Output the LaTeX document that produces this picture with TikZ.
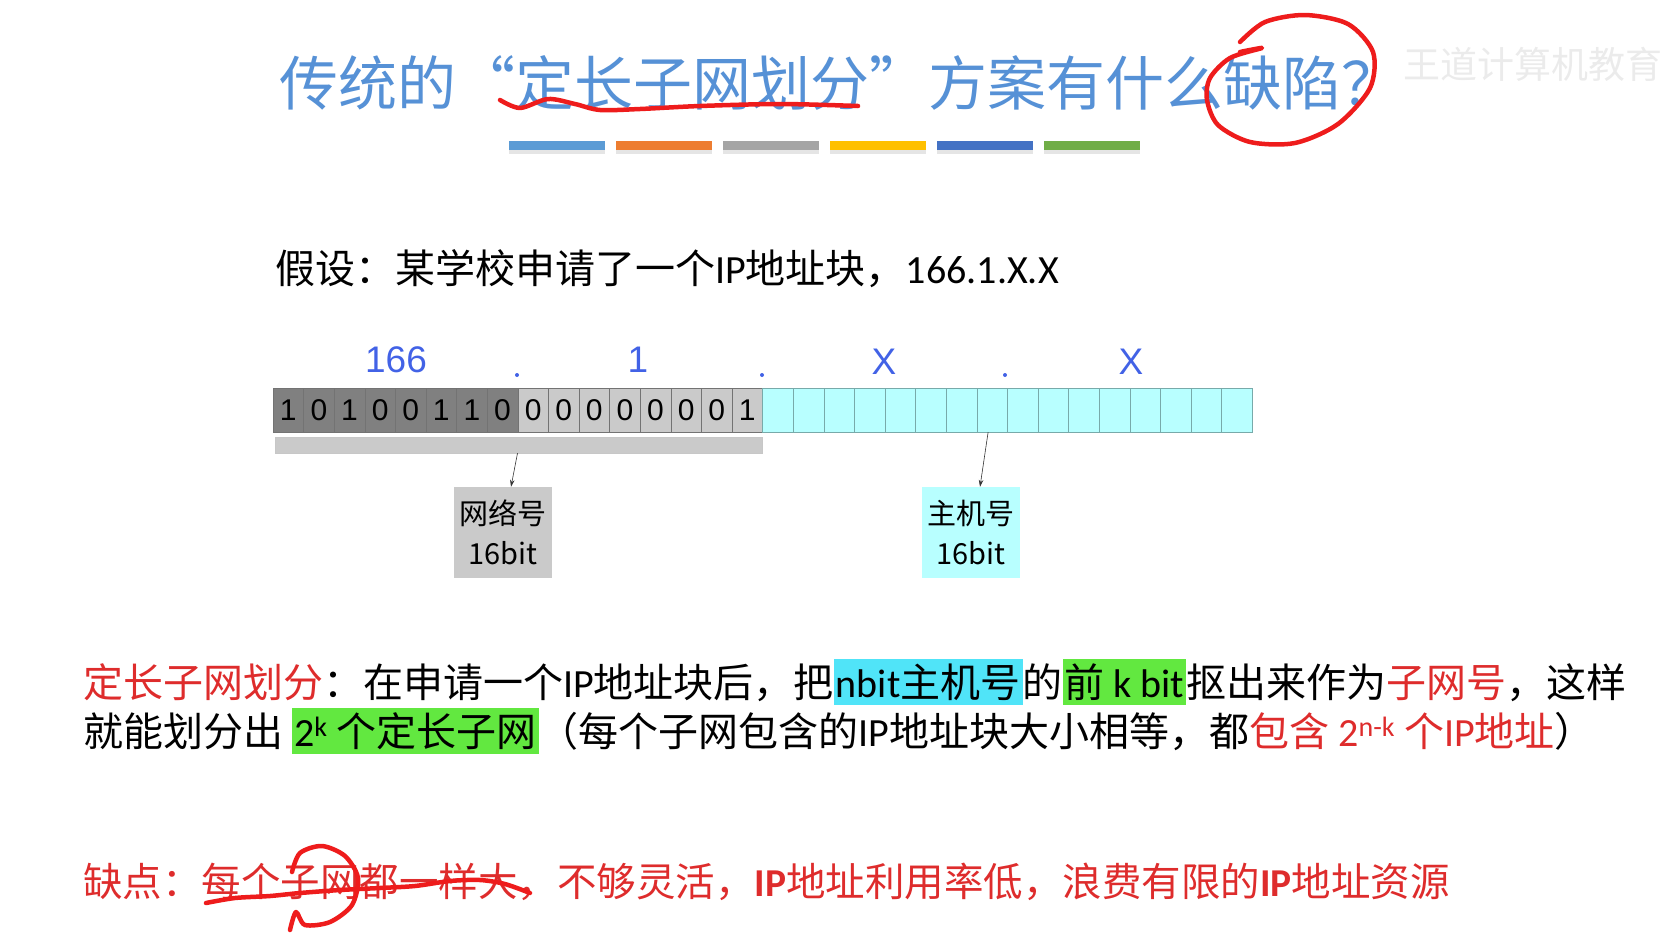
\documentclass[tikz,border=0pt]{standalone}
\usepackage{fontspec}
\usepackage{xcolor}
\setmainfont{Noto Sans CJK SC}
\newfontfamily\lat{Carlito}
\newfontfamily\arial{Liberation Sans}
\usetikzlibrary{arrows.meta, positioning, calc}
\definecolor{titleblue}{RGB}{86,145,214}
\definecolor{octblue}{RGB}{66,98,230}
\definecolor{netgray}{RGB}{128,128,128}
\definecolor{subgray}{RGB}{202,202,202}
\definecolor{hostcyan}{RGB}{184,255,255}
\definecolor{hostedge}{RGB}{120,170,170}
\definecolor{hlcyan}{RGB}{80,228,248}
\definecolor{hlgreen}{RGB}{98,232,64}
\definecolor{txtred}{RGB}{222,44,44}
\definecolor{inkred}{RGB}{238,28,28}
\definecolor{barblue}{RGB}{91,155,213}
\definecolor{barorange}{RGB}{237,125,49}
\definecolor{bargray}{RGB}{165,165,165}
\definecolor{bargold}{RGB}{255,192,0}
\definecolor{bardark}{RGB}{68,114,196}
\definecolor{bargreen}{RGB}{112,173,71}
\newcommand\hilite[2]{{\setlength\fboxsep{0pt}\colorbox{#1}{\rule[-8pt]{0pt}{46pt}\kern2pt#2\kern2pt}}}

\begin{document}
\begin{tikzpicture}[
    x=1pt, y=-1pt,
    titletxt/.style={font=\fontsize{59}{62}\selectfont, text=titleblue, inner sep=0pt},
    bodytxt/.style={font=\fontsize{40}{48}\selectfont, inner sep=0pt, anchor=base west},
    octtxt/.style={font=\arial\fontsize{37}{40}\selectfont, text=octblue, inner sep=0pt},
    netcell/.style={draw=black!55, fill=netgray, minimum width=30.6pt, minimum height=44pt, inner sep=0pt, font=\arial\fontsize{30}{32}\selectfont},
    subcell/.style={netcell, fill=subgray},
    hostcell/.style={draw=hostedge, fill=hostcyan, minimum width=30.6pt, minimum height=44pt, inner sep=0pt},
    tagbox/.style={minimum width=98pt, minimum height=91pt, align=center, inner sep=0pt, font=\fontsize{29}{40}\selectfont},
    pointer/.style={-{Stealth[length=7pt, width=4.5pt]}, black!80, semithick},
    ink/.style={inkred, line width=4.5pt, line cap=round, line join=round},
]
\useasboundingbox (0,0) rectangle (1671,943);

% --- Title and colour strip ---
\node[titletxt, anchor=west] (title) at (279,83) {传统的“定长子网划分”方案有什么缺陷？};
\node[font=\fontsize{37}{40}\selectfont, text=black!8, anchor=west] (mark) at (1400,64) {王道计算机教育};
\foreach \c [count=\i from 0] in {barblue, barorange, bargray, bargold, bardark, bargreen} {
  \fill[black!10] ({509+107*\i},150) rectangle ++(96,4);
  \fill[\c] ({509+107*\i},141) rectangle ++(96,9);
}

% --- Assumption ---
\node[bodytxt] (given) at (275,283) {假设：某学校申请了一个{\lat IP}地址块，{\lat 166.1.X.X}};

% --- Octet labels above the bit row ---
\node[octtxt] (o1) at (396,360) {166};
\node[octtxt] (o2) at (638,360) {1};
\node[octtxt] (o3) at (884,362) {X};
\node[octtxt] (o4) at (1131,362) {X};
\foreach \x in {517,762,1005} \fill[octblue] (\x,375) circle (2);

% --- 32 bit cells: network part (gray), host part (cyan) ---
\foreach \b [count=\i from 0] in {1,0,1,0,0,1,1,0}
  \node[netcell] (c\i) at ({288.3+30.6*\i},410) {\b};
\foreach \b [count=\i from 8] in {0,0,0,0,0,0,0,1}
  \node[subcell] (c\i) at ({288.3+30.6*\i},410) {\b};
\foreach \i in {16,...,31}
  \node[hostcell] (c\i) at ({288.3+30.6*\i},410) {};

% --- Brace bar under the network part ---
\node[fill=subgray, draw=black!22, minimum width=487pt, minimum height=16pt, inner sep=0pt] (netbar) at (518.5,445) {};

% --- Tags ---
\node[tagbox, fill=subgray] (netbox) at (503,532.5) {网络号\\16bit};
\node[tagbox, fill=hostcyan] (hostbox) at (971,532.5) {主机号\\16bit};
\draw[pointer] ([xshift=-1pt]netbar.south) -- ([xshift=8pt]netbox.north);
\draw[pointer] ([xshift=-4pt]c23.south) -- ([xshift=9pt]hostbox.north);

% --- Definition ---
\node[bodytxt] (def1) at (83,697) {\textcolor{txtred}{定长子网划分}：在申请一个{\lat IP}地址块后，把\hilite{hlcyan}{{\lat nbit}主机号}的\hilite{hlgreen}{前 {\lat k bit}}抠出来作为\textcolor{txtred}{子网号}，这样};
\node[bodytxt] (def2) at (83,746) {就能划分出 \hilite{hlgreen}{{\lat 2\textsuperscript{k}} 个定长子网}（每个子网包含的{\lat IP}地址块大小相等，都\textcolor{txtred}{包含 {\lat 2\textsuperscript{n-k}} 个{\lat IP}地址}）};

% --- Drawback ---
\node[bodytxt, text=txtred, font=\fontsize{39.5}{48}\selectfont] (flaw) at (83,896) {缺点：每个子网都一样大，不够灵活，{\lat\bfseries IP}地址利用率低，浪费有限的{\lat\bfseries IP}地址资源};

% --- Hand-drawn marks ---
\draw[ink] plot[smooth] coordinates {(500,100) (520,108) (548,99) (575,104) (600,110) (640,109) (700,106) (780,104) (858,106)};
\draw[ink] plot[smooth] coordinates {(1240,52) (1262,48) (1230,58) (1210,78) (1207,100) (1218,125) (1250,142) (1295,143) (1338,124) (1370,88) (1373,52) (1348,24) (1305,15) (1265,22) (1240,42)};
\draw[ink] plot[smooth] coordinates {(206,903) (235,898) (270,896) (300,893) (340,890) (380,888) (415,886) (450,881) (480,880) (505,884) (530,893)};
\draw[ink] plot[smooth] coordinates {(292,872) (300,853) (322,846) (345,856) (358,878) (352,905) (330,922) (305,925) (296,912) (290,930)};

\end{tikzpicture}
\end{document}
